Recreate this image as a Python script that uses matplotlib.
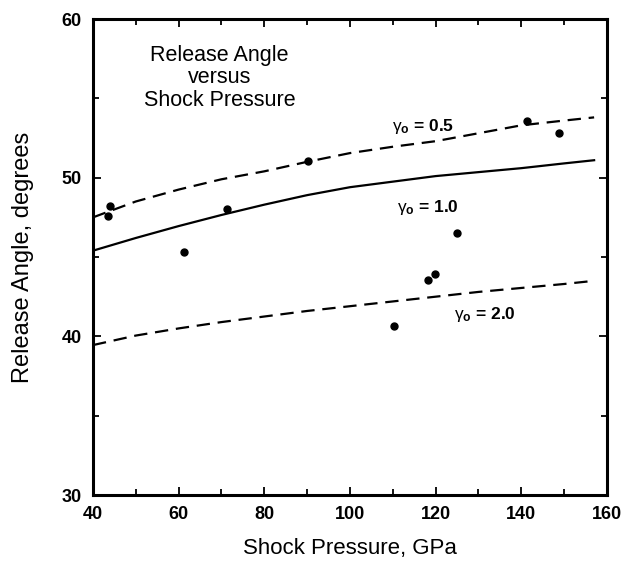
import matplotlib
matplotlib.use('Agg')
import matplotlib.pyplot as plt
from matplotlib.ticker import MultipleLocator

plt.rcParams['font.family'] = ['Liberation Sans', 'DejaVu Sans']
plt.rcParams['mathtext.fontset'] = 'custom'
plt.rcParams['mathtext.rm'] = 'Liberation Sans'
plt.rcParams['mathtext.it'] = 'Liberation Sans'
plt.rcParams['mathtext.bf'] = 'Liberation Sans:bold'

# measured points
pressure = [44.0, 43.6, 61.3, 71.4, 90.3, 110.3, 118.3, 119.9, 125.1, 141.3, 148.9]
angle = [48.2, 47.6, 45.3, 48.05, 51.05, 40.65, 43.55, 43.95, 46.5, 53.6, 52.8]

# model curves
curve_p = [40, 50, 60, 70, 80, 90, 100, 110, 120, 130, 140, 150, 157]
gamma_05 = [47.5, 48.5, 49.25, 49.9, 50.4, 51.0, 51.55, 51.95, 52.3, 52.8, 53.3, 53.6, 53.8]
gamma_10 = [45.4, 46.2, 46.95, 47.65, 48.3, 48.9, 49.4, 49.75, 50.1, 50.35, 50.6, 50.9, 51.1]
gamma_20 = [39.45, 40.05, 40.5, 40.9, 41.25, 41.6, 41.9, 42.2, 42.5, 42.8, 43.05, 43.3, 43.5]

fig = plt.figure(figsize=(6.44, 5.64), dpi=100)
ax = fig.add_axes([0.1444, 0.1223, 0.7981, 0.844])

ax.plot(curve_p, gamma_05, color='black', lw=1.6, dashes=(6, 3.5))
ax.plot(curve_p, gamma_10, color='black', lw=1.6)
ax.plot(curve_p, gamma_20, color='black', lw=1.6, dashes=(6, 3.5))
ax.plot(pressure, angle, 'o', color='black', markersize=5)

ax.set_xlim(40, 160)
ax.set_ylim(30, 60)
ax.xaxis.set_major_locator(MultipleLocator(20))
ax.xaxis.set_minor_locator(MultipleLocator(10))
ax.yaxis.set_major_locator(MultipleLocator(10))
ax.yaxis.set_minor_locator(MultipleLocator(5))
ax.tick_params(which='both', direction='in', top=True, right=True, width=1.3)
ax.tick_params(which='major', length=6, labelsize=13, pad=8)
ax.tick_params(which='minor', length=4)
for lab in ax.get_xticklabels() + ax.get_yticklabels():
    lab.set_fontweight('bold')
for s in ax.spines.values():
    s.set_linewidth(2.2)

ax.set_xlabel('Shock Pressure, GPa', fontsize=16, labelpad=11)
ax.set_ylabel('Release Angle, degrees', fontsize=17, labelpad=20)

ax.text(69.5, 56.3, 'Release Angle\nversus\nShock Pressure', fontsize=15.5,
        ha='center', va='center', linespacing=1.1)
ax.text(117.0, 53.2, r'$\gamma_\mathbf{o}$ = 0.5', fontsize=12.5, fontweight='bold',
        ha='center', va='center')
ax.text(118.3, 48.15, r'$\gamma_\mathbf{o}$ = 1.0', fontsize=12.5, fontweight='bold',
        ha='center', va='center')
ax.text(131.5, 41.4, r'$\gamma_\mathbf{o}$ = 2.0', fontsize=12.5, fontweight='bold',
        ha='center', va='center')

plt.savefig('out.png', dpi=100, facecolor='white')
